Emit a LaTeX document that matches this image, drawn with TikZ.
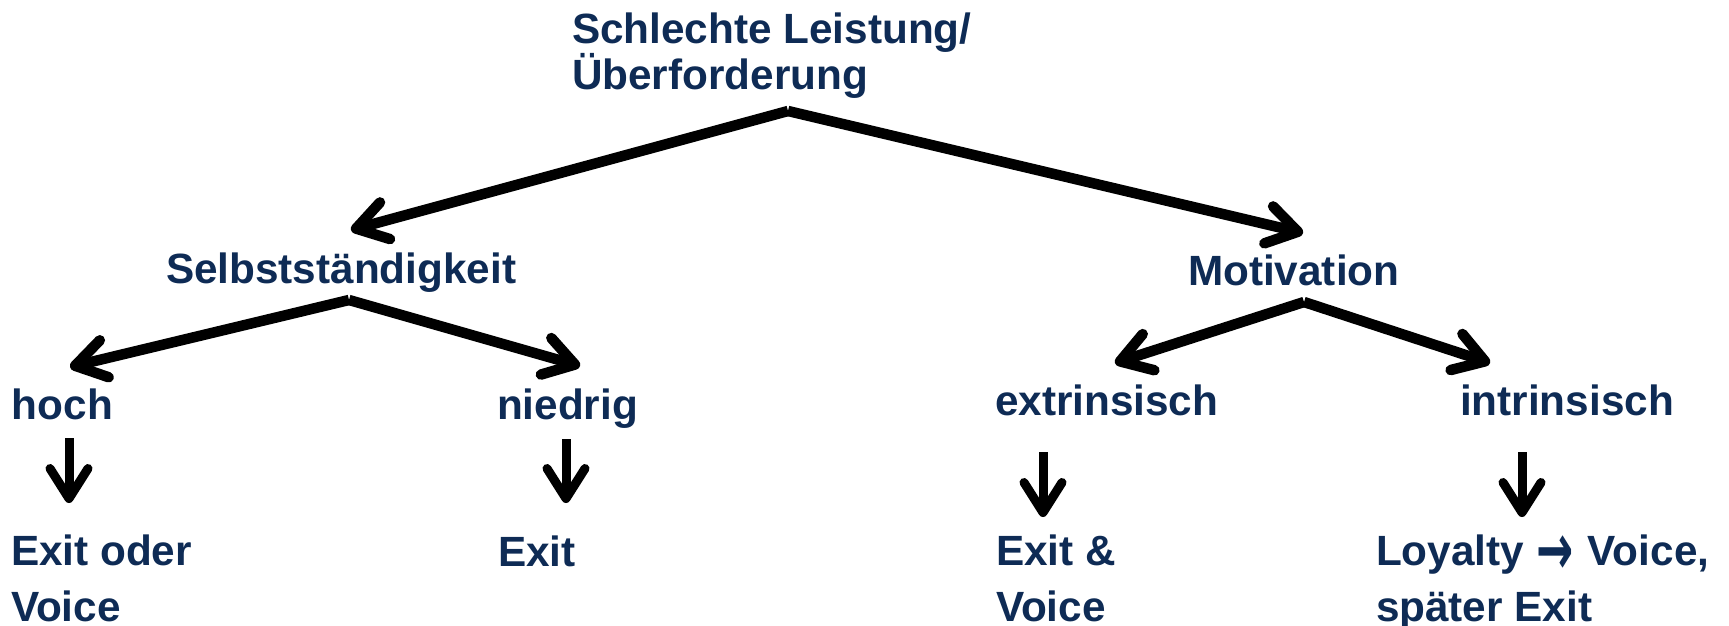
\documentclass[tikz,border=0pt]{standalone}
\usepackage{fontspec}
\setmainfont{Liberation Sans}
\newfontfamily\arrowfont[BoldFont=DejaVu Sans Bold]{DejaVu Sans}
\usetikzlibrary{arrows.meta}
\definecolor{navy}{HTML}{0E2B55}
\newcommand{\bigarrow}{{\arrowfont\bfseries\kern1pt\raisebox{-9pt}{\scalebox{1.05}[1.7]{→}}\kern2pt}}
\tikzset{
  lbl/.style={anchor=base west, inner sep=0pt, outer sep=0pt, text=navy, align=left,
    font=\bfseries\fontsize{42.3}{56}\selectfont},
  ttl/.style={lbl, font=\bfseries\fontsize{42.3}{46}\selectfont},
  branch/.style={line width=10.5pt, -{Straight Barb[length=30pt,width=38pt,round]}},
  down/.style={line width=9pt, -{Straight Barb[length=30pt,width=38pt,round]}},
}
\begin{document}
\begin{tikzpicture}[x=1pt,y=-1pt]
\useasboundingbox (0,0) rectangle (1729,626);
% texts (multi-line nodes are anchored at the baseline of their last line)
\node[ttl] (title) at (572,89) {Schlechte Leistung/\\Überforderung};
\node[lbl] (selb) at (166,283) {Selbstständigkeit};
\node[lbl] (moti) at (1188,285) {Motivation};
\node[lbl] (hoch) at (12,419) {hoch};
\node[lbl] (nied) at (497,419) {niedrig};
\node[lbl] (extr) at (995,415) {extrinsisch};
\node[lbl] (intr) at (1460,415) {intrinsisch};
\node[lbl] (r1) at (11,621) {Exit oder\\Voice};
\node[lbl] (r2) at (498,566) {Exit};
\node[lbl] (r3) at (996,621) {Exit \&\\Voice};
\node[lbl] (r4) at (1376,621) {Loyalty \bigarrow{} Voice,\\später Exit};
% arrow end points
\coordinate (t0) at (788,111);
\coordinate (tL) at (351,230);
\coordinate (tR) at (1303,233);
\coordinate (s0) at (349,300);
\coordinate (sL) at (70,367);
\coordinate (sR) at (580,366);
\coordinate (m0) at (1304,302);
\coordinate (mL) at (1115,363);
\coordinate (mR) at (1490,363);
\coordinate (d1a) at (69,438);  \coordinate (d1b) at (69,503);
\coordinate (d2a) at (566,439); \coordinate (d2b) at (566,503);
\coordinate (d3a) at (1043,452);\coordinate (d3b) at (1043,517);
\coordinate (d4a) at (1522,452);\coordinate (d4b) at (1522,517);
% connectors
\draw[branch] (t0) -- (tL);
\draw[branch] (t0) -- (tR);
\draw[branch] (s0) -- (sL);
\draw[branch] (s0) -- (sR);
\draw[branch] (m0) -- (mL);
\draw[branch] (m0) -- (mR);
\draw[down] (d1a) -- (d1b);
\draw[down] (d2a) -- (d2b);
\draw[down] (d3a) -- (d3b);
\draw[down] (d4a) -- (d4b);
\end{tikzpicture}
\end{document}
